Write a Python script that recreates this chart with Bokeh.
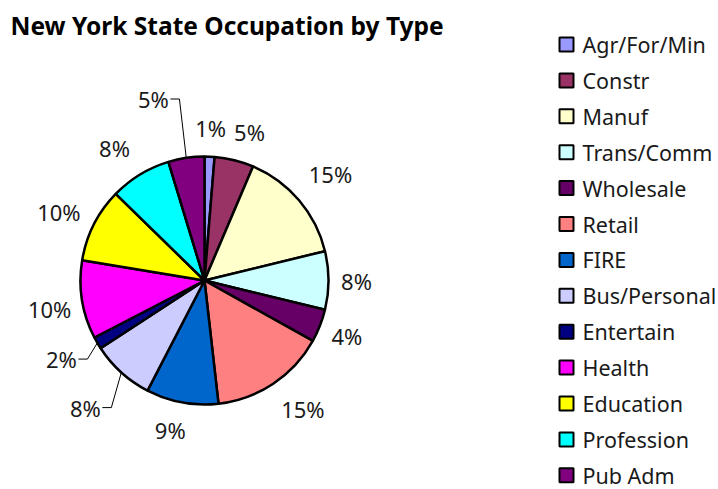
import math
from bokeh.plotting import figure
from bokeh.models import Range1d, ColumnDataSource
from bokeh.core.properties import value
from bokeh.embed import file_html
from bokeh.resources import INLINE

# ---------------- data ----------------
title_text = "New York State Occupation by Type"
categories = ["Agr/For/Min", "Constr", "Manuf", "Trans/Comm", "Wholesale", "Retail",
              "FIRE", "Bus/Personal", "Entertain", "Health", "Education",
              "Profession", "Pub Adm"]
shares = [1.3, 5.1, 14.8, 7.6, 4.3, 15.1, 9.4, 8.2, 1.6, 10.2, 9.7, 8.0, 4.7]
colors = ["#9999FF", "#993366", "#FFFFCC", "#CCFFFF", "#660066", "#FF8080",
          "#0066CC", "#CCCCFF", "#000080", "#FF00FF", "#FFFF00", "#00FFFF", "#800080"]

# ---------------- layout ----------------
W, H = 718, 489
FONT = "Noto Sans"


def Y(iy):
    return H - iy


p = figure(width=W, height=H, x_range=Range1d(0, W), y_range=Range1d(0, H),
           output_backend="svg", toolbar_location=None, min_border=0,
           x_axis_location=None, y_axis_location=None)
p.grid.visible = False
p.outline_line_color = None
p.background_fill_color = "white"

# pie
cx, cy, R = 204, Y(280), 124
total = sum(shares)
starts, ends, mids = [], [], []
cum = 0.0
for v in shares:
    starts.append(math.pi / 2 - 2 * math.pi * cum / total)
    ends.append(math.pi / 2 - 2 * math.pi * (cum + v) / total)
    mids.append(2 * math.pi * (cum + v / 2) / total)
    cum += v

src = ColumnDataSource(dict(start=starts, end=ends, color=colors, cat=categories))
p.wedge(x=cx, y=cy, radius=R, start_angle="start", end_angle="end", direction="clock",
        fill_color="color", line_color="black", line_width=2.5, source=src)

# data labels (screen-pixel nudges; y positive = up)
LBL_FS = 22
gap = 15
nudge = {"Pub Adm": (-29, 33), "Entertain": (-10, -1), "Bus/Personal": (-16, -13),
         "Constr": (9, 3), "Manuf": (7, 6), "Retail": (14, -2), "Profession": (-11, 3),
         "FIRE": (-7, -2), "Health": (2, -4), "Education": (-2, -4), "Agr/For/Min": (0, 3)}
leader = {"Pub Adm", "Entertain", "Bus/Personal"}
lx, ly, lt = [], [], []
leaders_x, leaders_y = [], []
for cat, v, th in zip(categories, shares, mids):
    txt = f"{round(v / total * 100)}%"
    w = len(txt) * 0.62 * 21
    h = 22
    ux, uy = math.sin(th), math.cos(th)
    ex = (w / 2) / abs(ux) if abs(ux) > 1e-6 else 1e9
    ey = (h / 2) / abs(uy) if abs(uy) > 1e-6 else 1e9
    d = R + gap + min(ex, ey)
    x = cx + d * ux
    y = cy + d * uy
    dx, dy = nudge.get(cat, (0, 0))
    x += dx
    y += dy
    if cat in leader:
        exx, exy = cx + R * ux, cy + R * uy
        sx = x + w / 2 + 4 if x < exx else x - w / 2 - 4
        hx = sx + 9 if x < exx else sx - 9
        leaders_x.append([sx, hx, exx])
        leaders_y.append([y, y, exy])
    lx.append(x)
    ly.append(y)
    lt.append(txt)

p.multi_line(xs=leaders_x, ys=leaders_y, line_color="black", line_width=1)
p.text(x=lx, y=ly, text=lt, text_align="center", text_baseline="middle",
       text_font=value(FONT), text_font_size=f"{LBL_FS}px", text_color="#1a1a1a")

# title
p.text(x=[10], y=[Y(25)], text=[title_text], text_align="left", text_baseline="middle",
       text_font=value("Noto Sans"), text_font_style="bold", text_font_size="24.5px",
       text_color="black")

# legend
row0, step = 44, 35.9
leg_y = [Y(row0 + i * step) for i in range(len(categories))]
p.rect(x=[566] * len(categories), y=leg_y, width=14, height=14, fill_color=colors,
       line_color="black", line_width=2)
p.text(x=[582] * len(categories), y=leg_y, text=categories, text_align="left",
       text_baseline="middle", text_font=value(FONT), text_font_size="21.5px",
       text_color="#1a1a1a")

open("out.html", "w").write(file_html(p, INLINE))
